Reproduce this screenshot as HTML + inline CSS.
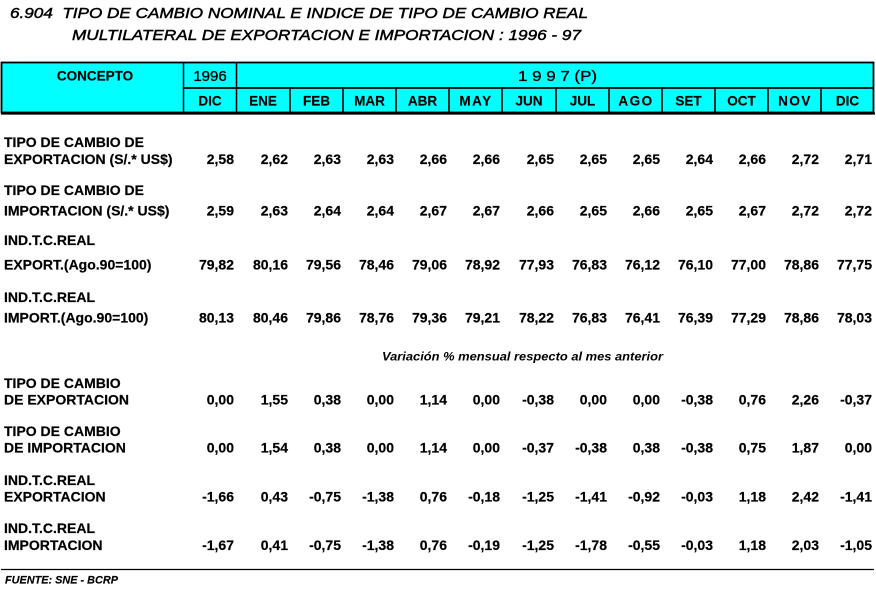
<!DOCTYPE html>
<html><head><meta charset="utf-8"><style>
html,body{margin:0;padding:0;background:#fff;}
svg{display:block;}
text{font-family:"Liberation Sans",Arial,sans-serif;fill:#000;}
.t{font-style:italic;font-size:14.5px;stroke:#000;stroke-width:0.45px;}
.l{font-weight:bold;font-size:14px;stroke:#000;stroke-width:0.2px;}
.n{font-weight:bold;font-size:14px;text-anchor:end;stroke:#000;stroke-width:0.2px;}
.m{font-weight:bold;font-size:13.5px;text-anchor:middle;stroke:#000;stroke-width:0.15px;}
.y{font-size:15px;stroke:#000;stroke-width:0.35px;}
</style></head><body>
<svg width="876" height="591" viewBox="0 0 876 591" xmlns="http://www.w3.org/2000/svg">
<rect width="876" height="591" fill="#fff"/>
<text class="t" x="10" y="18" textLength="578" lengthAdjust="spacingAndGlyphs">6.904&#160;&#160;TIPO DE CAMBIO NOMINAL E INDICE DE TIPO DE CAMBIO REAL</text>
<text class="t" x="72" y="40" textLength="509" lengthAdjust="spacingAndGlyphs">MULTILATERAL DE EXPORTACION E IMPORTACION : 1996 - 97</text>

<!-- header -->
<rect x="1.5" y="62.5" width="872" height="50" fill="#00ffff" stroke="#000" stroke-width="1.8"/>
<line x1="1" y1="113.5" x2="875" y2="113.5" stroke="#000" stroke-width="2.2"/>
<line x1="183.5" y1="62" x2="183.5" y2="114" stroke="#000" stroke-width="1.5"/>
<line x1="236.5" y1="62" x2="236.5" y2="114" stroke="#000" stroke-width="1.5"/>
<line x1="183" y1="88" x2="874" y2="88" stroke="#000" stroke-width="1.8"/>
<g stroke="#000" stroke-width="1.6">
<line x1="290" y1="88" x2="290" y2="114"/>
<line x1="343" y1="88" x2="343" y2="114"/>
<line x1="396" y1="88" x2="396" y2="114"/>
<line x1="449" y1="88" x2="449" y2="114"/>
<line x1="502" y1="88" x2="502" y2="114"/>
<line x1="556" y1="88" x2="556" y2="114"/>
<line x1="609" y1="88" x2="609" y2="114"/>
<line x1="662" y1="88" x2="662" y2="114"/>
<line x1="715" y1="88" x2="715" y2="114"/>
<line x1="768" y1="88" x2="768" y2="114"/>
<line x1="821" y1="88" x2="821" y2="114"/>
</g>
<text class="m" x="95" y="80.5">CONCEPTO</text>
<text class="y" x="210" y="81" style="text-anchor:middle">1996</text>
<text class="y" x="518" y="81" textLength="79" lengthAdjust="spacingAndGlyphs">1 9 9 7 (P)</text>
<text class="m" x="210" y="105.5">DIC</text>
<text class="m" x="263" y="105.5">ENE</text>
<text class="m" x="316.5" y="105.5">FEB</text>
<text class="m" x="369.5" y="105.5">MAR</text>
<text class="m" x="422.5" y="105.5">ABR</text>
<text class="m" x="476" y="105.5" style="letter-spacing:1.5px">MAY</text>
<text class="m" x="529" y="105.5">JUN</text>
<text class="m" x="582.5" y="105.5">JUL</text>
<text class="m" x="636" y="105.5" style="letter-spacing:1.5px">AGO</text>
<text class="m" x="688.5" y="105.5">SET</text>
<text class="m" x="741.5" y="105.5">OCT</text>
<text class="m" x="795" y="105.5" style="letter-spacing:1.5px">NOV</text>
<text class="m" x="847.5" y="105.5">DIC</text>

<!-- labels top -->
<text class="l" x="4" y="147">TIPO DE CAMBIO DE</text>
<text class="l" x="4" y="164">EXPORTACION (S/.* US$)</text>
<text class="l" x="4" y="195">TIPO DE CAMBIO DE</text>
<text class="l" x="4" y="215.5">IMPORTACION (S/.* US$)</text>
<text class="l" x="4" y="245">IND.T.C.REAL</text>
<text class="l" x="4" y="269.5">EXPORT.(Ago.90=100)</text>
<text class="l" x="4" y="302">IND.T.C.REAL</text>
<text class="l" x="4" y="322.5">IMPORT.(Ago.90=100)</text>

<g>
<text class="n" x="234" y="164">2,58</text><text class="n" x="288" y="164">2,62</text><text class="n" x="341" y="164">2,63</text><text class="n" x="394" y="164">2,63</text><text class="n" x="447" y="164">2,66</text><text class="n" x="500" y="164">2,66</text><text class="n" x="554" y="164">2,65</text><text class="n" x="607" y="164">2,65</text><text class="n" x="660" y="164">2,65</text><text class="n" x="713" y="164">2,64</text><text class="n" x="766" y="164">2,66</text><text class="n" x="819" y="164">2,72</text><text class="n" x="872" y="164">2,71</text>
</g>
<g>
<text class="n" x="234" y="215.5">2,59</text><text class="n" x="288" y="215.5">2,63</text><text class="n" x="341" y="215.5">2,64</text><text class="n" x="394" y="215.5">2,64</text><text class="n" x="447" y="215.5">2,67</text><text class="n" x="500" y="215.5">2,67</text><text class="n" x="554" y="215.5">2,66</text><text class="n" x="607" y="215.5">2,65</text><text class="n" x="660" y="215.5">2,66</text><text class="n" x="713" y="215.5">2,65</text><text class="n" x="766" y="215.5">2,67</text><text class="n" x="819" y="215.5">2,72</text><text class="n" x="872" y="215.5">2,72</text>
</g>
<g>
<text class="n" x="234" y="269.5">79,82</text><text class="n" x="288" y="269.5">80,16</text><text class="n" x="341" y="269.5">79,56</text><text class="n" x="394" y="269.5">78,46</text><text class="n" x="447" y="269.5">79,06</text><text class="n" x="500" y="269.5">78,92</text><text class="n" x="554" y="269.5">77,93</text><text class="n" x="607" y="269.5">76,83</text><text class="n" x="660" y="269.5">76,12</text><text class="n" x="713" y="269.5">76,10</text><text class="n" x="766" y="269.5">77,00</text><text class="n" x="819" y="269.5">78,86</text><text class="n" x="872" y="269.5">77,75</text>
</g>
<g>
<text class="n" x="234" y="322.5">80,13</text><text class="n" x="288" y="322.5">80,46</text><text class="n" x="341" y="322.5">79,86</text><text class="n" x="394" y="322.5">78,76</text><text class="n" x="447" y="322.5">79,36</text><text class="n" x="500" y="322.5">79,21</text><text class="n" x="554" y="322.5">78,22</text><text class="n" x="607" y="322.5">76,83</text><text class="n" x="660" y="322.5">76,41</text><text class="n" x="713" y="322.5">76,39</text><text class="n" x="766" y="322.5">77,29</text><text class="n" x="819" y="322.5">78,86</text><text class="n" x="872" y="322.5">78,03</text>
</g>

<text x="382" y="360.5" style="font-weight:bold;font-style:italic;font-size:12px" textLength="281" lengthAdjust="spacingAndGlyphs">Variación % mensual respecto al mes anterior</text>

<!-- labels bottom -->
<text class="l" x="4" y="388">TIPO DE CAMBIO</text>
<text class="l" x="4" y="404.5">DE EXPORTACION</text>
<text class="l" x="4" y="436">TIPO DE CAMBIO</text>
<text class="l" x="4" y="452.5">DE IMPORTACION</text>
<text class="l" x="4" y="485">IND.T.C.REAL</text>
<text class="l" x="4" y="501.5">EXPORTACION</text>
<text class="l" x="4" y="533">IND.T.C.REAL</text>
<text class="l" x="4" y="550">IMPORTACION</text>

<g>
<text class="n" x="234" y="404.5">0,00</text><text class="n" x="288" y="404.5">1,55</text><text class="n" x="341" y="404.5">0,38</text><text class="n" x="394" y="404.5">0,00</text><text class="n" x="447" y="404.5">1,14</text><text class="n" x="500" y="404.5">0,00</text><text class="n" x="554" y="404.5">-0,38</text><text class="n" x="607" y="404.5">0,00</text><text class="n" x="660" y="404.5">0,00</text><text class="n" x="713" y="404.5">-0,38</text><text class="n" x="766" y="404.5">0,76</text><text class="n" x="819" y="404.5">2,26</text><text class="n" x="872" y="404.5">-0,37</text>
</g>
<g>
<text class="n" x="234" y="452.5">0,00</text><text class="n" x="288" y="452.5">1,54</text><text class="n" x="341" y="452.5">0,38</text><text class="n" x="394" y="452.5">0,00</text><text class="n" x="447" y="452.5">1,14</text><text class="n" x="500" y="452.5">0,00</text><text class="n" x="554" y="452.5">-0,37</text><text class="n" x="607" y="452.5">-0,38</text><text class="n" x="660" y="452.5">0,38</text><text class="n" x="713" y="452.5">-0,38</text><text class="n" x="766" y="452.5">0,75</text><text class="n" x="819" y="452.5">1,87</text><text class="n" x="872" y="452.5">0,00</text>
</g>
<g>
<text class="n" x="234" y="501.5">-1,66</text><text class="n" x="288" y="501.5">0,43</text><text class="n" x="341" y="501.5">-0,75</text><text class="n" x="394" y="501.5">-1,38</text><text class="n" x="447" y="501.5">0,76</text><text class="n" x="500" y="501.5">-0,18</text><text class="n" x="554" y="501.5">-1,25</text><text class="n" x="607" y="501.5">-1,41</text><text class="n" x="660" y="501.5">-0,92</text><text class="n" x="713" y="501.5">-0,03</text><text class="n" x="766" y="501.5">1,18</text><text class="n" x="819" y="501.5">2,42</text><text class="n" x="872" y="501.5">-1,41</text>
</g>
<g>
<text class="n" x="234" y="550">-1,67</text><text class="n" x="288" y="550">0,41</text><text class="n" x="341" y="550">-0,75</text><text class="n" x="394" y="550">-1,38</text><text class="n" x="447" y="550">0,76</text><text class="n" x="500" y="550">-0,19</text><text class="n" x="554" y="550">-1,25</text><text class="n" x="607" y="550">-1,78</text><text class="n" x="660" y="550">-0,55</text><text class="n" x="713" y="550">-0,03</text><text class="n" x="766" y="550">1,18</text><text class="n" x="819" y="550">2,03</text><text class="n" x="872" y="550">-1,05</text>
</g>

<line x1="1" y1="569.5" x2="874" y2="569.5" stroke="#000" stroke-width="1.3"/>
<text x="5" y="583.5" style="font-weight:bold;font-style:italic;font-size:11px;stroke:#000;stroke-width:0.15px" textLength="113" lengthAdjust="spacingAndGlyphs">FUENTE: SNE - BCRP</text>
</svg>
</body></html>
